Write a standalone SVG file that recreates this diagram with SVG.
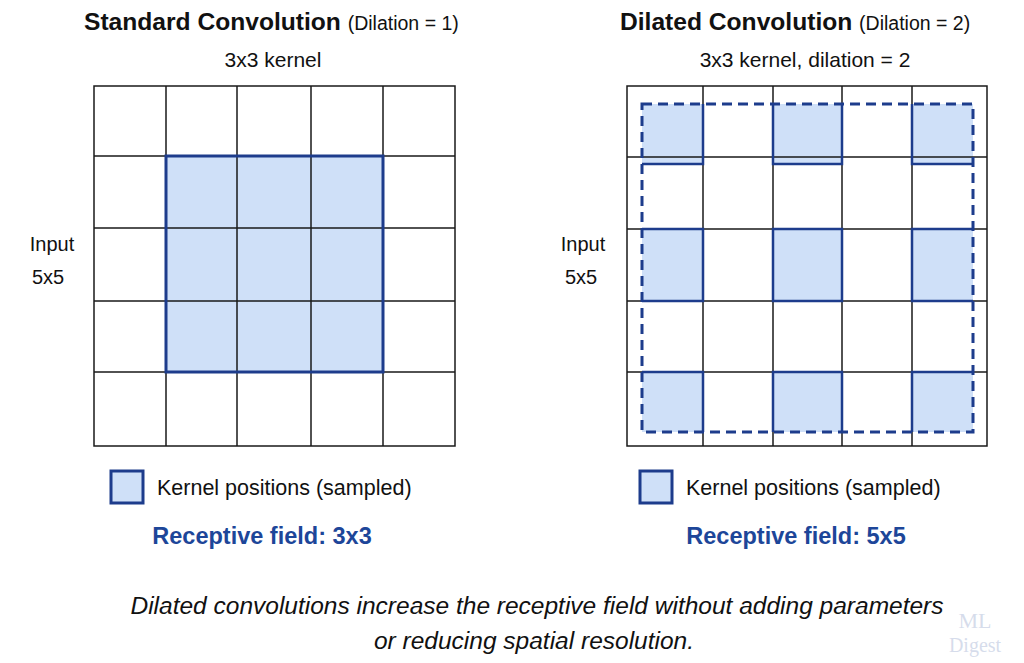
<svg xmlns="http://www.w3.org/2000/svg" width="1024" height="663" viewBox="0 0 1024 663">
<style>
text{font-family:"Liberation Sans",Arial,sans-serif;fill:#111}
.t{font-size:24.6px;font-weight:bold}
.tr{font-size:19.5px;font-weight:normal}
.s{font-size:21px}
.i{font-size:20px}
.l{font-size:21.5px}
.g{stroke:#1a1a1a;stroke-width:1.5;fill:none}
.k{fill:#cfe0f8;stroke:#1d3c8c;stroke-width:3}
.rf{font-size:23.5px;font-weight:bold;fill:#1d4699}
.c{font-size:24.5px;font-style:italic}
</style>
<rect width="1024" height="663" fill="#fff"/>
<g id="left">
<rect x="166" y="156" width="217" height="216" fill="#cfe0f8"/>
<path class="g" d="M94 86H455V446H94Z M166 86V446 M237 86V446 M311 86V446 M383 86V446 M94 156H455 M94 228H455 M94 301H455 M94 372H455"/>
<rect x="166" y="156" width="217" height="216" fill="none" stroke="#1d3c8c" stroke-width="3"/>
<text x="84" y="30" class="t">Standard Convolution <tspan class="tr">(Dilation = 1)</tspan></text>
<text x="273" y="67" class="s" text-anchor="middle">3x3 kernel</text>
<text x="52" y="251" class="i" text-anchor="middle">Input</text>
<text x="48" y="284" class="i" text-anchor="middle">5x5</text>
<rect x="111" y="471" width="32" height="32" class="k" stroke-width="2"/>
<text x="157" y="495" class="l">Kernel positions (sampled)</text>
<text x="262" y="544" class="rf" text-anchor="middle">Receptive field: 3x3</text>
</g>
<g id="right">
<g fill="#cfe0f8">
<rect x="642" y="104" width="61" height="60"/><rect x="773" y="104" width="69" height="60"/><rect x="912" y="104" width="61" height="60"/>
<rect x="642" y="229" width="61" height="72"/><rect x="773" y="229" width="69" height="72"/><rect x="912" y="229" width="61" height="72"/>
<rect x="642" y="372" width="61" height="60"/><rect x="773" y="372" width="69" height="60"/><rect x="912" y="372" width="61" height="60"/>
</g>
<path class="g" d="M627 86H987V446H627Z M703 86V446 M773 86V446 M842 86V446 M912 86V446 M627 157H987 M627 229H987 M627 301H987 M627 372H987"/>
<path fill="none" stroke="#1d3c8c" stroke-width="2.5" d="M642 164H703V104 M773 104V164H842V104 M912 104V164H973 M642 229H703V301H642 M773 229H842V301H773Z M973 229H912V301H973 M642 372H703V432 M773 432V372H842V432 M973 372H912V432"/>
<rect x="642" y="104" width="331" height="328" fill="none" stroke="#1d3c8c" stroke-width="3" stroke-dasharray="10,6"/>
<text x="620" y="30" class="t">Dilated Convolution <tspan class="tr">(Dilation = 2)</tspan></text>
<text x="805" y="67" class="s" text-anchor="middle">3x3 kernel, dilation = 2</text>
<text x="583" y="251" class="i" text-anchor="middle">Input</text>
<text x="581" y="284" class="i" text-anchor="middle">5x5</text>
<rect x="640" y="471" width="32" height="32" class="k" stroke-width="2"/>
<text x="686" y="495" class="l">Kernel positions (sampled)</text>
<text x="796" y="544" class="rf" text-anchor="middle">Receptive field: 5x5</text>
</g>
<g id="caption">
<text x="537" y="614" class="c" text-anchor="middle">Dilated convolutions increase the receptive field without adding parameters</text>
<text x="534" y="649" class="c" text-anchor="middle">or reducing spatial resolution.</text>
</g>
<g id="watermark" opacity="0.3">
<text x="975" y="628" text-anchor="middle" style="font-family:'Liberation Serif',serif;font-size:22px;fill:#7a8fc0">ML</text>
<text x="975" y="652" text-anchor="middle" style="font-family:'Liberation Serif',serif;font-size:20px;fill:#7a8fc0">Digest</text>
</g>
</svg>
